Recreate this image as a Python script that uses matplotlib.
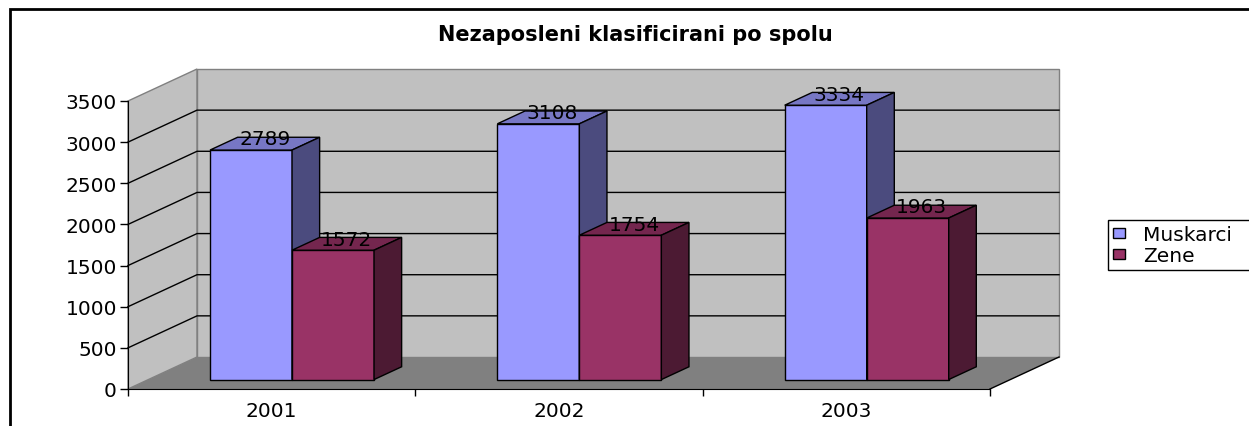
import matplotlib
matplotlib.use("Agg")
import matplotlib.pyplot as plt
from matplotlib.patches import Polygon, Rectangle, Patch

# podaci
years = ["2001", "2002", "2003"]
series_names = ["Muskarci", "Zene"]
muskarci = [2789, 3108, 3334]
zene = [1572, 1754, 1963]
yticks = [0, 500, 1000, 1500, 2000, 2500, 3000, 3500]

# boje (front, top, side)
colors = [("#9999FF", "#7777C4", "#4B4B7E"),
          ("#993366", "#74264E", "#4C1A33")]

plt.rcParams['font.family'] = ['DejaVu Sans']
fs = 14.5

W, H = 1249, 427
fig = plt.figure(figsize=(W / 100, H / 100), dpi=100)
ax = fig.add_axes([128 / W, (H - 390) / H, 862 / W, 288 / H])
ax.set_xlim(0, 3)
ax.set_ylim(0, 3500)

# dubina 3D (u jedinicama podataka)
DX, DY = 0.2402, 388.9
ymax = yticks[-1]

wall = "#C0C0C0"
edge = "#808080"
# pod
ax.add_patch(Polygon([(0, 0), (3, 0), (3 + DX, DY), (DX, DY)], closed=True,
                     facecolor="#808080", edgecolor="none", clip_on=False, zorder=1))
# lijevi zid
ax.add_patch(Polygon([(0, 0), (DX, DY), (DX, ymax + DY), (0, ymax)], closed=True,
                     facecolor=wall, edgecolor=edge, lw=1, clip_on=False, zorder=1))
# zadnji zid
ax.add_patch(Polygon([(DX, DY), (3 + DX, DY), (3 + DX, ymax + DY), (DX, ymax + DY)],
                     closed=True, facecolor=wall, edgecolor=edge, lw=1,
                     clip_on=False, zorder=1))
# mreza
for v in yticks[1:-1]:
    ax.plot([0, DX, 3 + DX], [v, v + DY, v + DY], color="black", lw=1,
            clip_on=False, zorder=2)
ax.plot([3, 3 + DX], [0, DY], color="black", lw=1, clip_on=False, zorder=2)

# stupci
w = 0.2854
f0 = 0.295
fd = 0.40
ddx, ddy = fd * DX, fd * DY
base = f0 * DY
for i in range(len(years)):
    for j, vals in enumerate([muskarci, zene]):
        v = vals[i]
        x0 = i + 0.5 - w + j * w + f0 * DX
        front, top, side = colors[j]
        z = 3 + i * 2 + j * 0.5
        ax.add_patch(Polygon([(x0, base), (x0 + w, base), (x0 + w, base + v), (x0, base + v)],
                             closed=True, facecolor=front, edgecolor="black", lw=1,
                             clip_on=False, zorder=z))
        ax.add_patch(Polygon([(x0, base + v), (x0 + w, base + v),
                              (x0 + w + ddx, base + v + ddy), (x0 + ddx, base + v + ddy)],
                             closed=True, facecolor=top, edgecolor="black", lw=1,
                             clip_on=False, zorder=z))
        ax.add_patch(Polygon([(x0 + w, base), (x0 + w + ddx, base + ddy),
                              (x0 + w + ddx, base + v + ddy), (x0 + w, base + v)],
                             closed=True, facecolor=side, edgecolor="black", lw=1,
                             clip_on=False, zorder=z))
        ax.text(x0 + (w + ddx) / 2, base + v + ddy - 20, str(v), ha="center", va="center",
                fontsize=fs, zorder=20, clip_on=False)

# osi
for s in ["top", "right"]:
    ax.spines[s].set_visible(False)
ax.spines["left"].set_zorder(15)
ax.spines["bottom"].set_zorder(15)
ax.patch.set_visible(False)
ax.set_yticks(yticks)
ax.tick_params(axis="y", direction="out", length=6, width=1, pad=2, labelsize=fs)
ax.set_xticks([0, 1, 2, 3])
ax.set_xticklabels([])
ax.set_xticks([0.5, 1.5, 2.5], minor=True)
ax.set_xticklabels(years, minor=True)
ax.tick_params(axis="x", which="major", direction="out", length=5, width=1)
ax.tick_params(axis="x", which="minor", length=0, pad=8.5, labelsize=fs)

# naslov
fig.text(635 / W, 1 - 35 / H, "Nezaposleni klasificirani po spolu",
         ha="center", va="center", fontsize=15, fontweight="bold")

# legenda (desni rub izlazi iz slike kao u originalu)
handles = [Patch(facecolor=colors[k][0], edgecolor="black", lw=1) for k in range(2)]
leg = fig.legend(handles, series_names, loc="center left", mode="expand",
                 bbox_to_anchor=(1108 / W, (H - 246) / H, 150 / W, 0), fontsize=fs,
                 frameon=True, fancybox=False, framealpha=1, edgecolor="black",
                 handlelength=0.6, handleheight=0.4, handletextpad=0.9,
                 labelspacing=0.1, borderpad=0.25, borderaxespad=0)
leg.get_frame().set_linewidth(1)

# okvir grafikona
fig.patches.append(Rectangle((10 / W, -0.2), 2, 1.2 - 10 / H, transform=fig.transFigure,
                             fill=False, edgecolor="black", lw=2))

fig.savefig("out.png", dpi=100)
